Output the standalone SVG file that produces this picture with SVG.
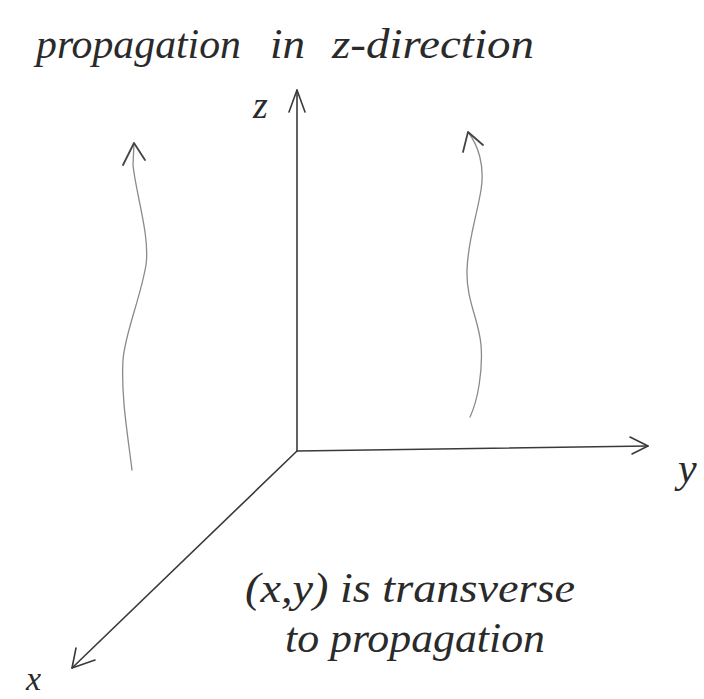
<svg xmlns="http://www.w3.org/2000/svg" width="704" height="699" viewBox="0 0 704 699">
<style>
.hand{font-family:"Liberation Serif","DejaVu Serif",serif;font-style:italic;fill:#2a2a2a}
.axis{fill:none;stroke:#3a3a3a;stroke-width:1.6;stroke-linecap:round;stroke-linejoin:round}
.wave{fill:none;stroke:#8a8a8a;stroke-width:1.3;stroke-linecap:round}
.head{fill:none;stroke:#444;stroke-width:1.8;stroke-linecap:round;stroke-linejoin:round}
</style>
<rect width="704" height="699" fill="#ffffff"/>
<g id="connectors">
  <g id="z-axis">
    <path class="axis" d="M297,451 L297,90"/>
    <path class="axis" d="M289,112 L297,90 L305,112"/>
  </g>
  <g id="y-axis">
    <path class="axis" d="M297,451 L648,446"/>
    <path class="axis" d="M630,437 L648,446 L632,454"/>
  </g>
  <g id="x-axis">
    <path class="axis" d="M297,451 L72,668"/>
    <path class="axis" d="M76,648 L72,668 L95,660"/>
  </g>
  <g id="wave-left">
    <path class="wave" d="M132,470 C127,430 121,395 123,360 C125,333 140,300 146,265 C150,235 136,195 133,165 L134,143"/>
    <path class="head" d="M123,165 L134,143 L145,160"/>
  </g>
  <g id="wave-right">
    <path class="wave" d="M470,417 C478,400 483,370 481,345 C479,320 466,300 467,270 C468,240 476,220 481,190 C485,165 478,145 468,132"/>
    <path class="head" d="M463,152 L468,132 L483,145"/>
  </g>
</g>
<g id="title">
  <text class="hand" x="36" y="58" font-size="42" textLength="205" lengthAdjust="spacingAndGlyphs">propagation</text>
  <text class="hand" x="270" y="58" font-size="42" textLength="35" lengthAdjust="spacingAndGlyphs">in</text>
  <text class="hand" x="332" y="58" font-size="42" textLength="202" lengthAdjust="spacingAndGlyphs">z-direction</text>
</g>
<g id="label-z"><text class="hand" x="253" y="118" font-size="38">z</text></g>
<g id="label-y"><text class="hand" x="678" y="482" font-size="42">y</text></g>
<g id="label-x"><text class="hand" x="26" y="690" font-size="34">x</text></g>
<g id="label-transverse">
  <text class="hand" x="245" y="602" font-size="42" textLength="330" lengthAdjust="spacingAndGlyphs">(x,y) is transverse</text>
  <text class="hand" x="285" y="652" font-size="42" textLength="260" lengthAdjust="spacingAndGlyphs">to propagation</text>
</g>
</svg>
